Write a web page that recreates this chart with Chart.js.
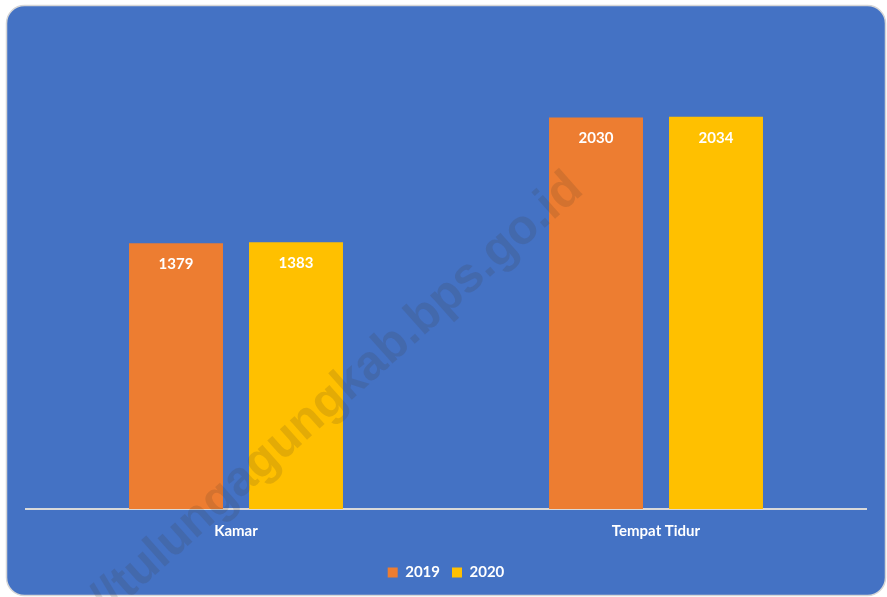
<!DOCTYPE html>
<html>
<head>
<meta charset="utf-8">
<script src="https://cdn.jsdelivr.net/npm/chart.js@4"></script>
<style>
  html, body { margin: 0; padding: 0; background: #ffffff; }
  #wrap { width: 887px; height: 597px; }
</style>
</head>
<body>
<div id="wrap"><canvas id="barChart" width="887" height="597"></canvas></div>
<script>
// data
var categories = ["Kamar", "Tempat Tidur"];
var values2019 = [1379, 2030];
var values2020 = [1383, 2034];
var seriesLabels = ["2019", "2020"];

var FONT = "Lato, 'Open Sans', sans-serif";

// blue rounded panel behind the chart
var panelPlugin = {
  id: "panel",
  beforeDraw: function(chart) {
    var ctx = chart.ctx;
    ctx.save();
    ctx.fillStyle = "#ffffff";
    ctx.fillRect(0, 0, chart.width, chart.height);
    ctx.beginPath();
    ctx.roundRect(6.5, 5.5, 879, 590, 18);
    ctx.fillStyle = "#4472C4";
    ctx.fill();
    ctx.lineWidth = 1.5;
    ctx.strokeStyle = "#D6D6D6";
    ctx.stroke();
    ctx.restore();
  }
};

// value labels inside the top of each bar
var valueLabels = {
  id: "valueLabels",
  afterDatasetsDraw: function(chart) {
    var ctx = chart.ctx;
    ctx.save();
    ctx.font = "bold 15px " + FONT;
    ctx.fillStyle = "#ffffff";
    ctx.textAlign = "center";
    ctx.textBaseline = "middle";
    chart.data.datasets.forEach(function(ds, i) {
      chart.getDatasetMeta(i).data.forEach(function(bar, j) {
        ctx.fillText(ds.data[j], bar.x, bar.y + 21);
      });
    });
    ctx.restore();
  }
};

// site watermark across the picture
var watermark = {
  id: "watermark",
  afterDraw: function(chart) {
    var ctx = chart.ctx;
    ctx.save();
    ctx.translate(585, 192);
    ctx.rotate(-41.7 * Math.PI / 180);
    ctx.font = "bold 49px 'Liberation Sans', Arial, sans-serif";
    ctx.fillStyle = "rgba(70, 55, 40, 0.15)";
    ctx.textAlign = "right";
    ctx.textBaseline = "alphabetic";
    ctx.fillText("https://tulungagungkab.bps.go.id", 0, 0);
    ctx.restore();
  }
};

var ctx = document.getElementById("barChart").getContext("2d");
new Chart(ctx, {
  type: "bar",
  data: {
    labels: categories,
    datasets: [
      {
        label: seriesLabels[0],
        data: values2019,
        backgroundColor: "#ED7D31",
        categoryPercentage: 0.5714,
        barPercentage: 0.783
      },
      {
        label: seriesLabels[1],
        data: values2020,
        backgroundColor: "#FFC000",
        categoryPercentage: 0.5714,
        barPercentage: 0.783
      }
    ]
  },
  options: {
    responsive: false,
    animation: false,
    layout: { padding: { left: 26, right: 21, top: 27, bottom: 7 } },
    scales: {
      x: {
        grid: { display: false, drawTicks: false },
        border: { display: true, color: "#D9D9D9", width: 2 },
        ticks: {
          color: "#ffffff",
          padding: 13,
          font: { family: FONT, size: 15, weight: "bold" }
        }
      },
      y: {
        display: false,
        min: 0,
        max: 2500
      }
    },
    plugins: {
      legend: {
        position: "bottom",
        labels: {
          color: "#ffffff",
          boxWidth: 10,
          boxHeight: 10,
          padding: 12,
          font: { family: FONT, size: 15, weight: "bold" }
        }
      },
      tooltip: { enabled: false }
    }
  },
  plugins: [panelPlugin, valueLabels, watermark]
});
</script>
</body>
</html>
